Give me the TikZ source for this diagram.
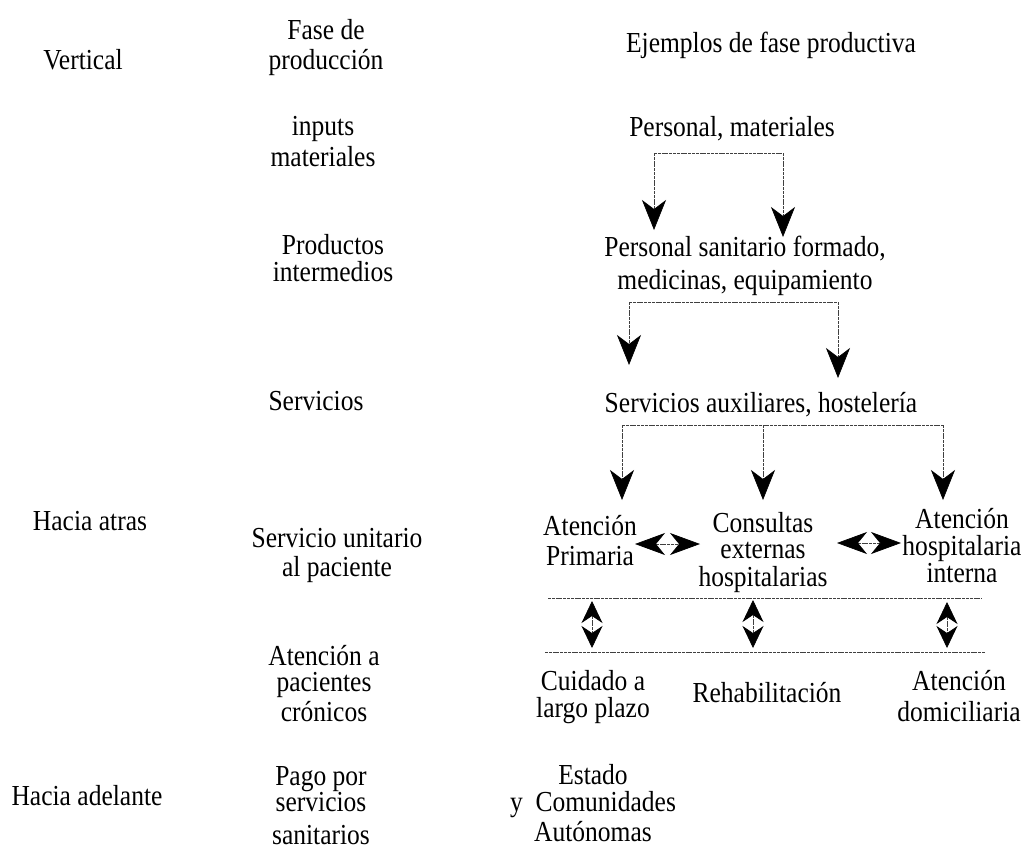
\documentclass[tikz,border=0pt]{standalone}
\usepackage{fontspec}
\setmainfont[FakeStretch=0.88]{Liberation Serif}
\usetikzlibrary{arrows.meta}
\newcommand{\ml}[1]{\begin{tabular}[t]{@{}c@{}}#1\end{tabular}}
\begin{document}
\begin{tikzpicture}[x=1pt,y=-1pt,
  lbl/.style={inner sep=0pt, anchor=base, font=\fontsize{29}{25}\selectfont},
  conn/.style={draw=black!75, line width=0.7pt, dash pattern=on 3pt off 0.8pt},
  hd/.style={-{Stealth[length=30pt,width=24pt,inset=9pt,black]}},
  dbl/.style={{Stealth[length=30pt,width=22pt,inset=9pt,black]}-{Stealth[length=30pt,width=22pt,inset=9pt,black]}},
  vdbl/.style={{Stealth[length=22pt,width=21pt,inset=7pt,black]}-{Stealth[length=22pt,width=21pt,inset=7pt,black]}}]
\useasboundingbox (0,0) rectangle (1031,854);
% left column
\node[lbl] (vert) at (83,69) {Vertical};
\node[lbl] (hat) at (90,530) {Hacia atras};
\node[lbl] (had) at (87,805) {Hacia adelante};
% middle column
\node[lbl] (fase) at (326,39) {\ml{Fase de\\[3pt] producción}};
\node[lbl] (inp) at (323,135) {\ml{inputs\\[4pt] materiales}};
\node[lbl] (prod) at (333,254) {\ml{Productos\\ intermedios}};
\node[lbl] (serv) at (316,410) {Servicios};
\node[lbl] (sup) at (337,547) {\ml{Servicio unitario\\[2pt] al paciente}};
\node[lbl] (atc) at (324,665) {\ml{Atención a\\ pacientes\\[2pt] crónicos}};
\node[lbl] (pago) at (321,785) {\ml{Pago por\\ servicios\\[6pt] sanitarios}};
% right column
\node[lbl] (ejem) at (771,52) {Ejemplos de fase productiva};
\node[lbl] (pm) at (732,136) {Personal, materiales};
\node[lbl] (psf) at (745,256) {\ml{Personal sanitario formado,\\[6pt] medicinas, equipamiento}};
\node[lbl] (sah) at (761,412) {Servicios auxiliares, hostelería};
\node[lbl] (ap) at (590,535) {\ml{Atención\\[4pt] Primaria}};
\node[lbl] (ce) at (763,532) {\ml{Consultas\\[1pt] externas\\[1pt] hospitalarias}};
\node[lbl] (ahi) at (962,528) {\ml{Atención\\ hospitalaria\\ interna}};
\node[lbl] (cl) at (593,690) {\ml{Cuidado a\\ largo plazo}};
\node[lbl] (rh) at (767,702) {Rehabilitación};
\node[lbl] (ad) at (959,690) {\ml{Atención\\[4pt] domiciliaria}};
\node[lbl] (est) at (593,784) {\ml{Estado\\ y~ Comunidades\\[2pt] Autónomas}};
% connector points
\coordinate (b1l) at (654,153); \coordinate (b1r) at (783,153);
\coordinate (t1l) at (654,230); \coordinate (t1r) at (783,237);
\coordinate (b2l) at (629,302); \coordinate (b2r) at (838,302);
\coordinate (t2l) at (629,365); \coordinate (t2r) at (838,378);
\coordinate (b3l) at (622,425); \coordinate (b3m) at (763,425); \coordinate (b3r) at (943,425);
\coordinate (t3l) at (622,500); \coordinate (t3m) at (763,500); \coordinate (t3r) at (943,500);
% first split
\draw[conn] (b1l) -- (b1r);
\draw[conn,hd] (b1l) -- (t1l);
\draw[conn,hd] (b1r) -- (t1r);
% second split
\draw[conn] (b2l) -- (b2r);
\draw[conn,hd] (b2l) -- (t2l);
\draw[conn,hd] (b2r) -- (t2r);
% third split
\draw[conn] (b3l) -- (b3r);
\draw[conn,hd] (b3l) -- (t3l);
\draw[conn,hd] (b3m) -- (t3m);
\draw[conn,hd] (b3r) -- (t3r);
% horizontal double arrows
\coordinate (h1a) at (635,544); \coordinate (h1b) at (700,544);
\coordinate (h2a) at (837,543); \coordinate (h2b) at (901,543);
\draw[conn,dbl] (h1a) -- (h1b);
\draw[conn,dbl] (h2a) -- (h2b);
% separating lines
\coordinate (l1a) at (548,598); \coordinate (l1b) at (982,598);
\coordinate (l2a) at (545,652); \coordinate (l2b) at (985,652);
\draw[conn] (l1a) -- (l1b);
\draw[conn] (l2a) -- (l2b);
% vertical double arrows
\coordinate (v1a) at (592,601); \coordinate (v1b) at (592,648);
\coordinate (v2a) at (753,600); \coordinate (v2b) at (753,648);
\coordinate (v3a) at (947,602); \coordinate (v3b) at (947,648);
\draw[conn,vdbl] (v1a) -- (v1b);
\draw[conn,vdbl] (v2a) -- (v2b);
\draw[conn,vdbl] (v3a) -- (v3b);
\end{tikzpicture}
\end{document}
